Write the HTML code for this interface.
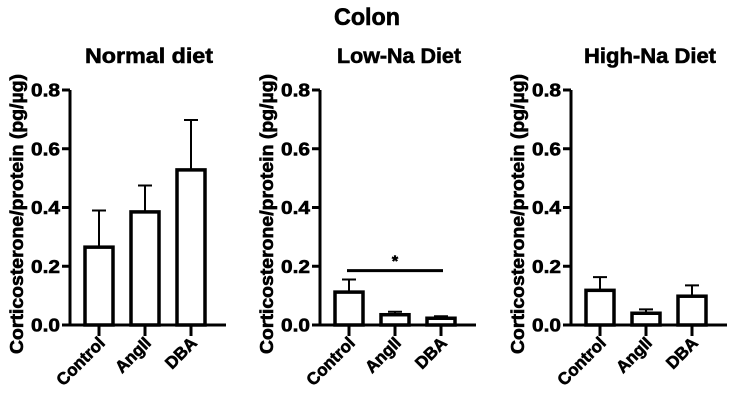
<!DOCTYPE html>
<html><head><meta charset="utf-8"><style>
body{margin:0;background:#fff;}
svg{display:block;font-family:"Liberation Sans",Arial,sans-serif;font-weight:bold;}
svg text{stroke:#000;stroke-width:0.6;}
</style></head><body>
<svg id="chart" width="735" height="400" viewBox="0 0 735 400">
<text x="367" y="25" text-anchor="middle" font-size="24" textLength="66" lengthAdjust="spacingAndGlyphs">Colon</text>
</svg>
<script>
const categories = ["Control","AngII","DBA"];
const panelTitles = ["Normal diet","Low-Na Diet","High-Na Diet"];
const normalMeans = [0.265,0.385,0.528];
const normalErrors = [0.125,0.09,0.17];
const lowNaMeans = [0.112,0.035,0.023];
const lowNaErrors = [0.043,0.01,0.007];
const highNaMeans = [0.118,0.04,0.098];
const highNaErrors = [0.045,0.013,0.037];
const yTicks = [0,0.2,0.4,0.6,0.8];
const yTickLabels = ["0.0","0.2","0.4","0.6","0.8"];
const sigValue = 0.185;

const svg = document.getElementById('chart');
const NS = "http://www.w3.org/2000/svg";
function mk(tag, attrs, parent){const e=document.createElementNS(NS,tag);for(const k in attrs)e.setAttribute(k,attrs[k]);(parent||svg).appendChild(e);return e;}
const offsets=[0,250,501];
const titleWidths=[128,124,132];
const means=[normalMeans,lowNaMeans,highNaMeans];
const errs=[normalErrors,lowNaErrors,highNaErrors];
const y=v=>325-v/0.8*235;

for(let p=0;p<3;p++){
  const o=offsets[p];
  const g=mk('g',{});
  
  
  const x=i=>o+99+i*46;
  const t=mk('text',{x:o+149,y:63,'text-anchor':'middle','font-size':21,textLength:titleWidths[p],lengthAdjust:'spacingAndGlyphs'},g);
  t.textContent=panelTitles[p];
  
  
  const yl=mk('text',{transform:`translate(${o+23},214) rotate(-90)`,'text-anchor':'middle','font-size':18,textLength:280,lengthAdjust:'spacingAndGlyphs'},g);
  yl.textContent="Corticosterone/protein (pg/µg)";
  
  
  categories.forEach((c,i)=>{
    const m=means[p][i],e=errs[p][i],cx=x(i);
    const eb=mk('path',{d:`M${cx} ${y(m)}V${y(m+e)}M${cx-7} ${y(m+e)}H${cx+7}`,stroke:'#000','stroke-width':2,fill:'none'},g);
    
    
    const r=mk('rect',{x:cx-14,y:y(m),width:28,height:325-y(m),fill:'#fff',stroke:'#000','stroke-width':3.5},g);
    
    
    mk('line',{x1:cx,x2:cx,y1:325,y2:336,stroke:'#000','stroke-width':3},g);
    const xl=mk('text',{transform:`translate(${cx+7},${344}) rotate(-45)`,'text-anchor':'end','font-size':17},g);
    xl.textContent=c;
    
    
  });
  const ax=mk('path',{d:`M${o+70} ${y(0.8)}V325H${o+226}`,stroke:'#000','stroke-width':3,fill:'none'},g);
  
  
  yTicks.forEach((v,k)=>{
    mk('line',{x1:o+62,x2:o+70,y1:y(v),y2:y(v),stroke:'#000','stroke-width':3},g);
    const tl=mk('text',{x:o+60,y:y(v)+6.5,'text-anchor':'end','font-size':18,textLength:29,lengthAdjust:'spacingAndGlyphs'},g);
    tl.textContent=yTickLabels[k];
    
    
  });
  if(p===1){
    const sl=mk('line',{x1:x(0)-2,x2:x(2)+2,y1:y(sigValue),y2:y(sigValue),stroke:'#000','stroke-width':3},g);
    
    
    const st=mk('text',{x:(x(0)+x(2))/2,y:y(sigValue)-4,'text-anchor':'middle','font-size':16},g);
    st.textContent='*';
    
    
  }
}
</script>
</body></html>
